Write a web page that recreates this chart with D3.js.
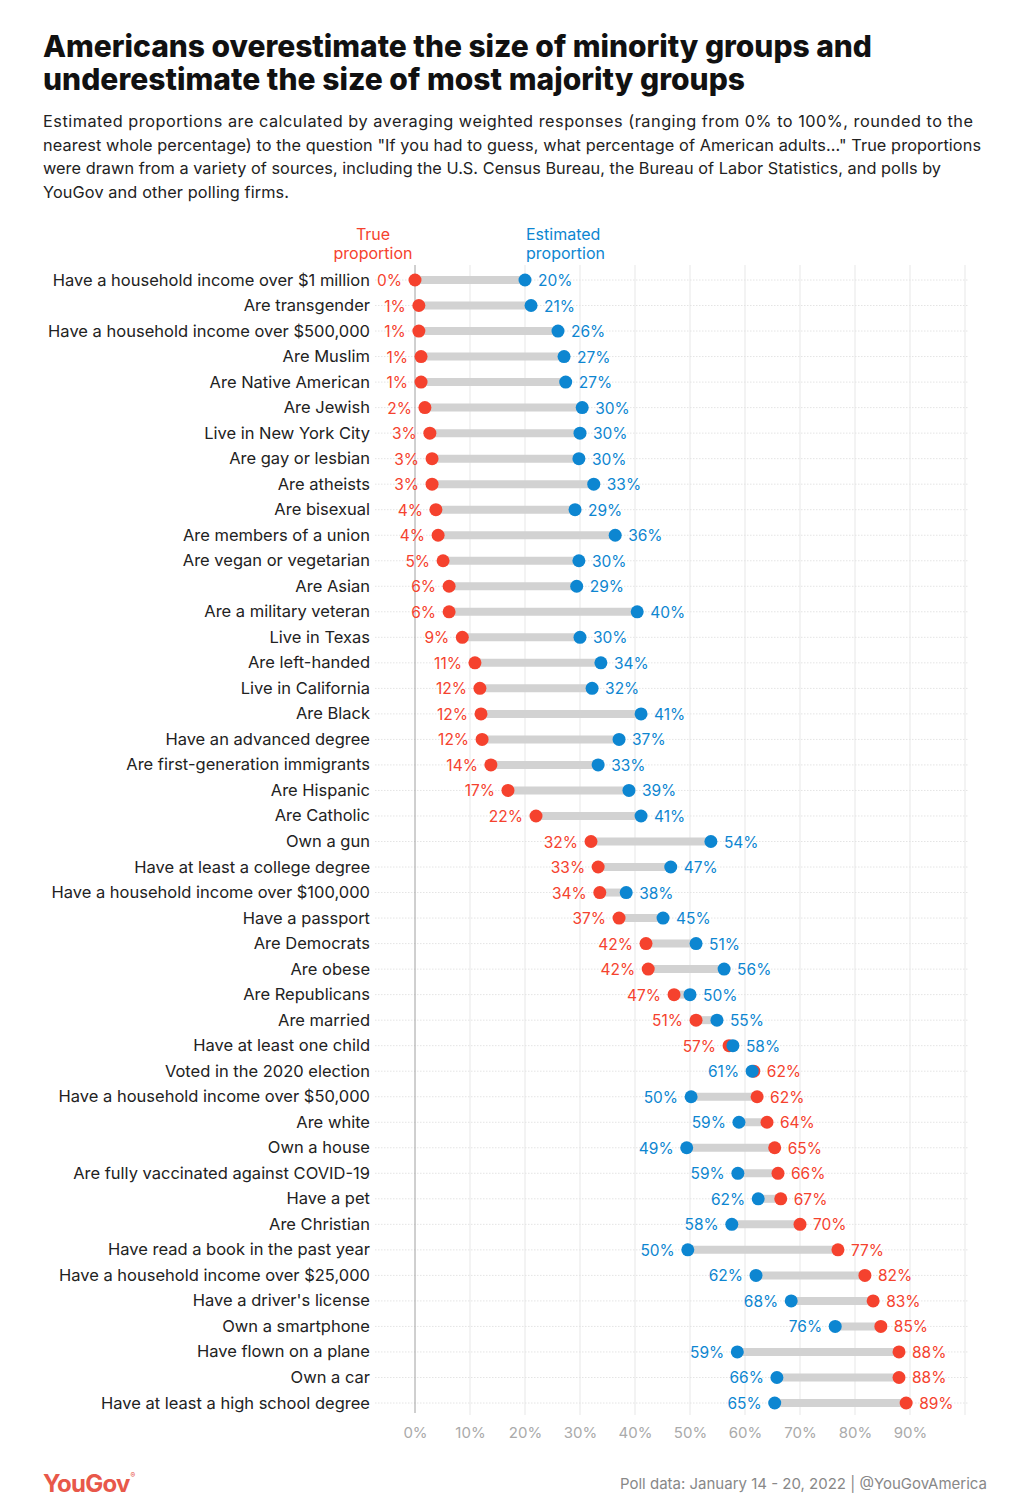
<!DOCTYPE html>
<html>
<head>
<meta charset="utf-8">
<script src="https://cdn.jsdelivr.net/npm/d3@7"></script>
<style>
  body { margin: 0; background: #fff; }
  svg { display: block; font-family: Inter, "Noto Sans", sans-serif; }
</style>
</head>
<body>
<svg id="chart" width="1022" height="1508"></svg>
<script>
// groups, top to bottom
const categories = [
  "Have a household income over $1 million", "Are transgender", "Have a household income over $500,000",
  "Are Muslim", "Are Native American", "Are Jewish", "Live in New York City", "Are gay or lesbian",
  "Are atheists", "Are bisexual", "Are members of a union", "Are vegan or vegetarian", "Are Asian",
  "Are a military veteran", "Live in Texas", "Are left-handed", "Live in California", "Are Black",
  "Have an advanced degree", "Are first-generation immigrants", "Are Hispanic", "Are Catholic",
  "Own a gun", "Have at least a college degree", "Have a household income over $100,000",
  "Have a passport", "Are Democrats", "Are obese", "Are Republicans", "Are married",
  "Have at least one child", "Voted in the 2020 election", "Have a household income over $50,000",
  "Are white", "Own a house", "Are fully vaccinated against COVID-19", "Have a pet", "Are Christian",
  "Have read a book in the past year", "Have a household income over $25,000", "Have a driver's license",
  "Own a smartphone", "Have flown on a plane", "Own a car", "Have at least a high school degree"
];

// true proportion (%)
const trueValues = [
  0, 0.7, 0.7, 1.1, 1.1, 1.8, 2.7, 3.1, 3.1, 3.8, 4.2, 5.1, 6.2, 6.2, 8.6, 10.9, 11.8, 12.0, 12.2,
  13.8, 16.9, 22.0, 32.0, 33.3, 33.6, 37.1, 42.0, 42.4, 47.1, 51.1, 57.1, 61.6, 62.2, 64.0, 65.4,
  66.0, 66.5, 70.0, 76.9, 81.8, 83.3, 84.7, 88.0, 88.0, 89.3
];

// estimated proportion (%)
const estValues = [
  20.0, 21.1, 26.0, 27.1, 27.4, 30.4, 30.0, 29.8, 32.5, 29.1, 36.4, 29.8, 29.4, 40.4, 30.0, 33.8,
  32.2, 41.1, 37.1, 33.3, 38.9, 41.1, 53.8, 46.5, 38.4, 45.1, 51.1, 56.2, 50.0, 54.9, 57.8, 61.3,
  50.2, 58.9, 49.4, 58.7, 62.4, 57.6, 49.6, 62.0, 68.4, 76.4, 58.6, 65.8, 65.4
];

const xTicks = [0, 10, 20, 30, 40, 50, 60, 70, 80, 90];

const title = [
  "Americans overestimate the size of minority groups and",
  "underestimate the size of most majority groups"
];
const subtitle = [
  "Estimated proportions are calculated by averaging weighted responses (ranging from 0% to 100%, rounded to the",
  "nearest whole percentage) to the question \"If you had to guess, what percentage of American adults...\" True proportions",
  "were drawn from a variety of sources, including the U.S. Census Bureau, the Bureau of Labor Statistics, and polls by",
  "YouGov and other polling firms."
];

const RED = "#f5422e";
const BLUE = "#0d86d1";

const data = categories.map((name, i) => ({ name, t: trueValues[i], e: estValues[i] }));

const svg = d3.select("#chart");

// fit a text element to a target width by tweaking letter spacing
function fitWidth(sel, target) {
  sel.each(function () {
    const len = this.getComputedTextLength();
    const n = this.getNumberOfChars();
    if (n > 1) d3.select(this).attr("letter-spacing", (target - len) / (n - 1));
  });
}

// title
svg.selectAll(".title")
  .data(title)
  .enter().append("text")
  .attr("class", "title")
  .attr("x", 43)
  .attr("y", (d, i) => 57 + i * 33)
  .attr("font-size", 30)
  .attr("font-weight", 800)
  .attr("fill", "#111")
  .text(d => d);
fitWidth(svg.selectAll(".title").filter((d, i) => i === 0), 829);
fitWidth(svg.selectAll(".title").filter((d, i) => i === 1), 702);

// subtitle
svg.selectAll(".subtitle")
  .data(subtitle)
  .enter().append("text")
  .attr("class", "subtitle")
  .attr("x", 43)
  .attr("y", (d, i) => 127 + i * 23.5)
  .attr("font-size", 16.3)
  .attr("fill", "#222")
  .text(d => d);
const subWidths = [930, 938, 898, 246];
svg.selectAll(".subtitle").each(function (d, i) { fitWidth(d3.select(this), subWidths[i]); });

// scales
const x = d3.scaleLinear().domain([0, 100]).range([415, 965]);
const y = d3.scalePoint().domain(categories).range([280, 1403]);

const gridTop = 265, gridBottom = 1415;

// vertical grid
svg.append("g")
  .selectAll("line")
  .data(d3.range(10, 101, 10))
  .enter().append("line")
  .attr("x1", d => x(d)).attr("x2", d => x(d))
  .attr("y1", gridTop).attr("y2", gridBottom)
  .attr("stroke", "#ebebeb")
  .attr("stroke-width", 1.2);

// horizontal dotted row lines
svg.append("g")
  .selectAll("line")
  .data(categories)
  .enter().append("line")
  .attr("x1", 375).attr("x2", 968)
  .attr("y1", d => y(d)).attr("y2", d => y(d))
  .attr("stroke", "#e4e4e4")
  .attr("stroke-dasharray", "1.5,1.5");

// zero line
svg.append("line")
  .attr("x1", x(0)).attr("x2", x(0))
  .attr("y1", gridTop).attr("y2", gridBottom - 2)
  .attr("stroke", "#a0a0a0")
  .attr("stroke-width", 1);

// x axis labels
const xAxis = svg.append("g")
  .attr("transform", `translate(0,${1432})`)
  .call(d3.axisBottom(x).tickValues(xTicks).tickFormat(d => d + "%").tickSize(0));
xAxis.select(".domain").remove();
xAxis.selectAll("text")
  .attr("font-family", "Inter, 'Noto Sans', sans-serif")
  .attr("font-size", 15)
  .attr("fill", "#aaa")
  .attr("dy", 0)
  .attr("y", 6);

// row labels
svg.append("g")
  .selectAll("text")
  .data(data)
  .enter().append("text")
  .attr("x", 370)
  .attr("y", d => y(d.name) + 5.5)
  .attr("text-anchor", "end")
  .attr("font-size", 16.5)
  .attr("fill", "#222")
  .text(d => d.name);

// connecting bars
svg.append("g")
  .selectAll("line")
  .data(data)
  .enter().append("line")
  .attr("x1", d => x(Math.min(d.t, d.e)))
  .attr("x2", d => x(Math.max(d.t, d.e)))
  .attr("y1", d => y(d.name)).attr("y2", d => y(d.name))
  .attr("stroke", "#d2d2d2")
  .attr("stroke-width", 8);

// dots: true first, estimated on top
svg.append("g")
  .selectAll("circle")
  .data(data)
  .enter().append("circle")
  .attr("cx", d => x(d.t))
  .attr("cy", d => y(d.name))
  .attr("r", 6.5)
  .attr("fill", RED);

svg.append("g")
  .selectAll("circle")
  .data(data)
  .enter().append("circle")
  .attr("cx", d => x(d.e))
  .attr("cy", d => y(d.name))
  .attr("r", 6.5)
  .attr("fill", BLUE);

// value labels
const pct = v => Math.round(v) + "%";
const labelOffset = 13;

svg.append("g")
  .selectAll("text")
  .data(data)
  .enter().append("text")
  .attr("x", d => d.t <= d.e ? x(d.t) - labelOffset : x(d.t) + labelOffset)
  .attr("y", d => y(d.name) + 6)
  .attr("text-anchor", d => d.t <= d.e ? "end" : "start")
  .attr("font-size", 15.5)
  .attr("fill", RED)
  .text(d => pct(d.t));

svg.append("g")
  .selectAll("text")
  .data(data)
  .enter().append("text")
  .attr("x", d => d.e > d.t ? x(d.e) + labelOffset : x(d.e) - labelOffset)
  .attr("y", d => y(d.name) + 6)
  .attr("text-anchor", d => d.e > d.t ? "start" : "end")
  .attr("font-size", 15.5)
  .attr("fill", BLUE)
  .text(d => pct(d.e));

// series headers above the first row
const header = svg.append("g").attr("font-size", 16);
header.selectAll(".h-true")
  .data(["True", "proportion"])
  .enter().append("text")
  .attr("x", x(data[0].t) - 42)
  .attr("y", (d, i) => 240 + i * 19)
  .attr("text-anchor", "middle")
  .attr("fill", RED)
  .text(d => d);
header.selectAll(".h-est")
  .data(["Estimated", "proportion"])
  .enter().append("text")
  .attr("x", x(data[0].e) + 1)
  .attr("y", (d, i) => 240 + i * 19)
  .attr("fill", BLUE)
  .text(d => d);

// footer
const logo = svg.append("text")
  .attr("x", 43)
  .attr("y", 1492)
  .attr("font-size", 24)
  .attr("font-weight", 700)
  .attr("letter-spacing", -0.8)
  .attr("fill", "#e8584a");
logo.append("tspan").text("YouGov");
logo.append("tspan").attr("font-size", 7).attr("dy", -14).attr("dx", 1).text("®");

svg.append("text")
  .attr("x", 987)
  .attr("y", 1489)
  .attr("text-anchor", "end")
  .attr("font-size", 15)
  .attr("fill", "#888")
  .text("Poll data: January 14 - 20, 2022 | @YouGovAmerica");
</script>
</body>
</html>
